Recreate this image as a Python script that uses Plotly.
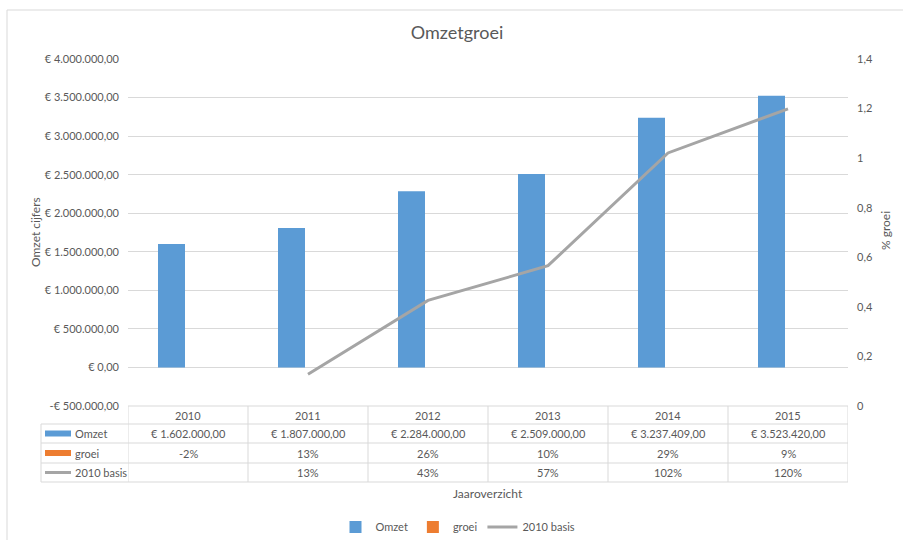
import plotly.graph_objects as go

# ---- data ----
years = ["2010", "2011", "2012", "2013", "2014", "2015"]
omzet = [1602000.00, 1807000.00, 2284000.00, 2509000.00, 3237409.00, 3523420.00]
groei = [-0.02, 0.128, 0.264, 0.099, 0.290, 0.088]
basis = [None, 0.128, 0.426, 0.566, 1.021, 1.199]

left_ticks = [-500000, 0, 500000, 1000000, 1500000, 2000000, 2500000, 3000000, 3500000, 4000000]
right_ticks = [0, 0.2, 0.4, 0.6, 0.8, 1.0, 1.2, 1.4]

BLUE = "#5B9BD5"
ORANGE = "#ED7D31"
GRAY = "#A5A5A5"
TXT = "#595959"
GRID = "#D9D9D9"
FONT = "Lato"


def euro(v):
    s = f"{abs(v):,.2f}".replace(",", "X").replace(".", ",").replace("X", ".")
    return ("-€ " if v < 0 else "€ ") + s


def dec(v):
    s = f"{v:.1f}".rstrip("0").rstrip(".")
    return s.replace(".", ",")


def pct(v):
    return "" if v is None else f"{round(v * 100):.0f}%"


# ---- pixel geometry helpers ----
L, R, T, B = 128, 55, 59, 134
W, H = 903, 540
PW, PH = W - L - R, H - T - B


def px(xp):
    return (xp - L) / PW


def py(yp):
    return (H - B - yp) / PH


fig = go.Figure()
fig.add_trace(go.Bar(x=years, y=omzet, name="Omzet", marker_color=BLUE,
                     marker_line_width=0, offset=-0.25, width=0.225, yaxis="y"))
fig.add_trace(go.Bar(x=years, y=groei, name="groei", marker_color=ORANGE,
                     marker_line_width=0, offset=0.025, width=0.225, yaxis="y"))
fig.add_trace(go.Scatter(x=years, y=basis, name="2010 basis", mode="lines",
                         line=dict(color=GRAY, width=3), yaxis="y2"))

shapes = []
annotations = []

# chart-area border
shapes.append(dict(type="rect", xref="paper", yref="paper",
                   x0=px(7), x1=px(915), y0=py(10), y1=py(560),
                   line=dict(color=GRID, width=1), layer="below"))

# data table geometry
row_edges = [406, 424, 443, 463, 482]
label_left = px(41)
n = len(years)
shapes.append(dict(type="line", xref="x", yref="paper", x0=-0.5, x1=n - 0.5,
                   y0=py(row_edges[0]), y1=py(row_edges[0]), line=dict(color=GRID, width=1)))
for e in row_edges[1:]:
    shapes.append(dict(type="line", xref="paper", yref="paper", x0=label_left, x1=1,
                       y0=py(e), y1=py(e), line=dict(color=GRID, width=1)))
for i in range(n + 1):
    shapes.append(dict(type="line", xref="x", yref="paper", x0=i - 0.5, x1=i - 0.5,
                       y0=py(row_edges[0]), y1=py(row_edges[-1]), line=dict(color=GRID, width=1)))
shapes.append(dict(type="line", xref="paper", yref="paper", x0=label_left, x1=label_left,
                   y0=py(row_edges[1]), y1=py(row_edges[-1]), line=dict(color=GRID, width=1)))

row_c = [(row_edges[k] + row_edges[k + 1]) / 2 for k in range(4)]

# legend keys in table
shapes.append(dict(type="rect", xref="paper", yref="paper", x0=px(45), x1=px(71),
                   y0=py(row_c[1] - 3), y1=py(row_c[1] + 3), fillcolor=BLUE, line=dict(width=0)))
shapes.append(dict(type="rect", xref="paper", yref="paper", x0=px(45), x1=px(71),
                   y0=py(row_c[2] - 3), y1=py(row_c[2] + 3), fillcolor=ORANGE, line=dict(width=0)))
shapes.append(dict(type="line", xref="paper", yref="paper", x0=px(45), x1=px(71),
                   y0=py(row_c[3]), y1=py(row_c[3]), line=dict(color=GRAY, width=3)))

cell_font = dict(family=FONT, size=11, color=TXT)
for lbl, rc in zip(["Omzet", "groei", "2010 basis"], row_c[1:]):
    annotations.append(dict(text=lbl, xref="paper", yref="paper", x=px(73), y=py(rc),
                            xanchor="left", yanchor="middle", showarrow=False, font=cell_font))

rows = [years, [euro(v) for v in omzet], [pct(v) for v in groei], [pct(v) for v in basis]]
for r, rc in zip(rows, row_c):
    for i, t in enumerate(r):
        annotations.append(dict(text=t, xref="x", yref="paper", x=i, y=py(rc),
                                xanchor="center", yanchor="middle", showarrow=False, font=cell_font))

# axis titles
annotations.append(dict(text="Omzet cijfers", xref="paper", yref="paper", x=px(35), y=py(232),
                        textangle=-90, showarrow=False, xanchor="center", yanchor="middle",
                        font=dict(family=FONT, size=12, color=TXT)))
annotations.append(dict(text="% groei", xref="paper", yref="paper", x=px(885), y=py(231),
                        textangle=-90, showarrow=False, xanchor="center", yanchor="middle",
                        font=dict(family=FONT, size=12, color=TXT)))
annotations.append(dict(text="Jaaroverzicht", xref="paper", yref="paper", x=0.5, y=py(493),
                        showarrow=False, xanchor="center", yanchor="middle",
                        font=dict(family=FONT, size=12, color=TXT)))

fig.update_layout(
    width=W, height=H,
    margin=dict(l=L, r=R, t=T, b=B, autoexpand=False),
    paper_bgcolor="white", plot_bgcolor="white",
    font=dict(family=FONT, color=TXT, size=11),
    title=dict(text="Omzetgroei", x=px(457), xref="paper", xanchor="center",
               y=1 - 33 / H, yanchor="middle", font=dict(family=FONT, size=18, color=TXT)),
    barmode="group",
    xaxis=dict(type="category", range=[-0.5, n - 0.5], showticklabels=False,
               showgrid=False, showline=False, zeroline=False, ticks="", automargin=False),
    yaxis=dict(range=[-500000, 4000000], tickvals=left_ticks,
               ticktext=[euro(v) for v in left_ticks], showgrid=True, gridcolor=GRID,
               zeroline=True, zerolinecolor=GRID, zerolinewidth=1, showline=False,
               ticks="", ticklabelstandoff=8, automargin=False,
               tickfont=dict(family=FONT, size=11, color=TXT)),
    yaxis2=dict(range=[0, 1.4], overlaying="y", side="right", tickvals=right_ticks,
                ticktext=[dec(v) for v in right_ticks], showgrid=False, zeroline=False,
                showline=False, ticks="", ticklabelstandoff=8, automargin=False,
                tickfont=dict(family=FONT, size=11, color=TXT)),
    legend=dict(orientation="h", x=px(458), xanchor="center", y=py(527), yanchor="middle",
                font=dict(family=FONT, size=11, color=TXT), itemwidth=30,
                traceorder="normal"),
    shapes=shapes,
    annotations=annotations,
)

fig.write_html("out.html", config={"displayModeBar": False},
               post_script="document.body.style.margin='0';document.body.style.padding='0';")
